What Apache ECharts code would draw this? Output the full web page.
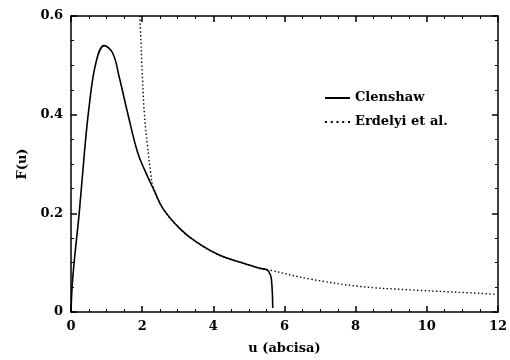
<!DOCTYPE html>
<html>
<head>
<meta charset="utf-8">
<script src="https://cdn.jsdelivr.net/npm/echarts@6/dist/echarts.min.js"></script>
<style>html,body{margin:0;padding:0;background:#fff}#c{width:510px;height:360px}</style>
</head>
<body>
<div id="c"></div>
<script>
var clenU = [0, 0.03, 0.09, 0.23, 0.37, 0.51, 0.70, 0.93, 1.17, 1.35, 1.59, 1.87, 2.10, 2.34, 2.59, 3.06, 3.52, 4.18, 4.93, 5.30, 5.49, 5.56, 5.63, 5.67];
var clenF = [0, 0.05, 0.102, 0.200, 0.317, 0.417, 0.505, 0.540, 0.525, 0.478, 0.404, 0.324, 0.283, 0.246, 0.209, 0.169, 0.142, 0.115, 0.097, 0.0886, 0.086, 0.082, 0.068, 0.008];
var erdU = [1.93, 1.96, 1.99, 2.06, 2.15, 2.24, 2.31, 2.59, 3.06, 3.52, 4.18, 4.93, 5.30, 5.58, 6.70, 8.10, 9.50, 10.9, 11.93];
var erdF = [0.600, 0.560, 0.505, 0.404, 0.337, 0.283, 0.253, 0.209, 0.169, 0.142, 0.115, 0.097, 0.0886, 0.085, 0.067, 0.052, 0.045, 0.040, 0.036];
var xTicks = [0, 2, 4, 6, 8, 10, 12];
var yTicks = [0, 0.2, 0.4, 0.6];
var seriesNames = ['Clenshaw', 'Erdelyi et al.'];

function pairs(a, b) { return a.map(function (v, i) { return [v, b[i]]; }); }

var font = 'DejaVu Serif';
var axisCommon = {
  type: 'value',
  axisLine: { show: true, onZero: false, lineStyle: { color: '#000', width: 1.5 } },
  axisTick: { show: true, inside: true, length: 6, lineStyle: { color: '#000', width: 1.5 } },
  minorTick: { show: true, splitNumber: 4, length: 3, lineStyle: { color: '#000', width: 1 } },
  splitLine: { show: false },
  minorSplitLine: { show: false }
};
function ax(extra) { return Object.assign({}, JSON.parse(JSON.stringify(axisCommon)), extra); }

var solidIcon = 'path://M0,0h25v2h-25z';
var dotIcon = 'path://M0,0h2v2h-2z M5.75,0h2v2h-2z M11.5,0h2v2h-2z M17.25,0h2v2h-2z M23,0h2v2h-2z';

var chart = echarts.init(document.getElementById('c'), null, { renderer: 'canvas' });
chart.setOption({
  animation: false,
  backgroundColor: '#fff',
  grid: { left: 71, right: 11, top: 16, bottom: 46 },
  legend: {
    orient: 'vertical',
    left: 320, top: 85,
    itemWidth: 25, itemHeight: 2, itemGap: 8,
    data: [
      { name: seriesNames[0], icon: solidIcon, itemStyle: { color: '#000' } },
      { name: seriesNames[1], icon: dotIcon, itemStyle: { color: '#000' } }
    ],
    textStyle: { fontFamily: font, fontWeight: 'bold', fontSize: 13, color: '#000', lineHeight: 16 }
  },
  xAxis: [
    ax({ position: 'bottom', min: xTicks[0], max: xTicks[xTicks.length - 1], interval: 2,
      name: 'u (abcisa)', nameLocation: 'middle', nameGap: 30,
      nameTextStyle: { fontFamily: font, fontWeight: 'bold', fontSize: 13, color: '#000' },
      axisLabel: { show: true, margin: 8, fontFamily: font, fontWeight: 'bold', fontSize: 13, color: '#000',
        formatter: function (v) { return xTicks.indexOf(v) >= 0 ? String(v) : ''; } } }),
    ax({ position: 'top', min: xTicks[0], max: xTicks[xTicks.length - 1], interval: 2, axisLabel: { show: false } })
  ],
  yAxis: [
    ax({ position: 'left', min: yTicks[0], max: yTicks[yTicks.length - 1], interval: 0.2,
      name: 'F(u)', nameLocation: 'middle', nameGap: 40, nameRotate: 90,
      nameTextStyle: { fontFamily: font, fontWeight: 'bold', fontSize: 13, color: '#000' },
      axisLabel: { show: true, margin: 8, fontFamily: font, fontWeight: 'bold', fontSize: 13, color: '#000',
        formatter: function (v) { return v === 0 ? '0' : v.toFixed(1); } } }),
    ax({ position: 'right', min: yTicks[0], max: yTicks[yTicks.length - 1], interval: 0.2, axisLabel: { show: false } })
  ],
  series: [
    { name: seriesNames[0], type: 'line', xAxisIndex: 0, yAxisIndex: 0, data: pairs(clenU, clenF),
      showSymbol: false, symbol: 'none', smooth: 0.4,
      lineStyle: { color: '#000', width: 1.6 }, itemStyle: { color: '#000' }, z: 3 },
    { name: seriesNames[1], type: 'line', xAxisIndex: 0, yAxisIndex: 0, data: pairs(erdU, erdF),
      showSymbol: false, symbol: 'none', smooth: 0.4,
      lineStyle: { color: '#000', width: 1.4, type: [1.4, 2.4] }, itemStyle: { color: '#000' }, z: 2 }
  ]
});
</script>
</body>
</html>
